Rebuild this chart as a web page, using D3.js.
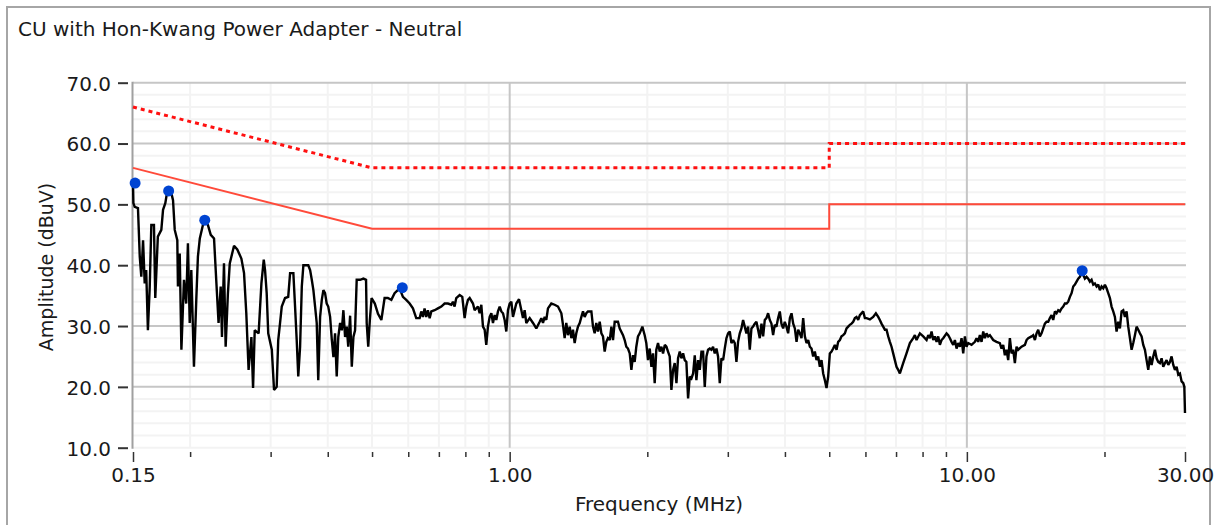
<!DOCTYPE html>
<html>
<head>
<meta charset="utf-8">
<script src="https://cdn.jsdelivr.net/npm/d3@7"></script>
<style>
  html, body { margin: 0; padding: 0; background: #fff; }
  svg { display: block; }
  text { font-family: "DejaVu Sans", Verdana, sans-serif; fill: #1a1a1a; }
</style>
</head>
<body>
<svg id="chart" width="1215" height="525"></svg>
<script>
// ---------------- data ----------------
const title = "CU with Hon-Kwang Power Adapter - Neutral";
const xTitle = "Frequency (MHz)";
const yTitle = "Amplitude (dBuV)";

const yTicks = [10, 20, 30, 40, 50, 60, 70];
const yMinorTicks = [12, 14, 16, 18, 22, 24, 26, 28, 32, 34, 36, 38, 42, 44, 46, 48, 52, 54, 56, 58, 62, 64, 66, 68];
const xLabelTicks = [0.15, 1, 10, 30];
const xMajorGrid = [1, 10];
const xMinorTicks = [0.2, 0.3, 0.4, 0.5, 0.6, 0.7, 0.8, 0.9, 2, 3, 4, 5, 6, 7, 8, 9, 20];

// limit lines (MHz, dBuV)
const limitMHz = [0.15, 0.5, 5, 5, 30];
const qpLimitDbuv = [66, 56, 56, 60, 60];
const avgLimitDbuv = [56, 46, 46, 50, 50];

// peak markers
const peakMHz = [0.1516, 0.1795, 0.2153, 0.5823, 17.875];
const peakDbuv = [53.5, 52.2, 47.4, 36.3, 39.1];

// measured trace [MHz, dBuV]
const trace = [
[0.1500,53.5],[0.1503,50.2],[0.1513,49.6],[0.1538,49.4],[0.1552,41.4],[0.1564,38.1],[0.1578,44.1],[0.1591,37.0],[0.1603,39.2],[0.1617,29.3],
[0.1632,36.5],[0.1645,46.6],[0.1667,46.6],[0.1678,34.6],[0.1700,44.7],[0.1730,45.8],[0.1745,49.1],[0.1765,50.2],[0.1782,52.1],[0.1820,51.8],
[0.1835,50.7],[0.1851,45.8],[0.1875,44.1],[0.1881,36.5],[0.1898,41.9],[0.1914,26.1],[0.1939,37.6],[0.1961,33.7],[0.1978,43.6],[0.1996,30.5],
[0.2012,39.2],[0.2039,23.3],[0.2063,34.3],[0.2080,41.4],[0.2100,44.4],[0.2145,47.4],[0.2188,46.6],[0.2219,45.0],[0.2256,44.4],[0.2281,37.6],
[0.2308,30.5],[0.2333,36.5],[0.2348,28.2],[0.2372,40.3],[0.2392,26.6],[0.2419,35.3],[0.2442,40.3],[0.2495,43.2],[0.2536,42.6],[0.2589,41.1],
[0.2624,38.7],[0.2654,32.1],[0.2685,22.8],[0.2723,28.2],[0.2746,19.8],[0.2769,29.3],[0.2824,28.8],[0.2864,37.0],[0.2898,40.9],[0.2917,39.2],
[0.2941,35.4],[0.2964,28.8],[0.3018,26.1],[0.3052,19.5],[0.3093,20.0],[0.3117,27.7],[0.3146,30.5],[0.3173,33.2],[0.3226,34.6],[0.3278,34.8],
[0.3309,38.7],[0.3364,38.7],[0.3393,33.2],[0.3421,27.7],[0.3448,21.7],[0.3480,26.6],[0.3510,36.5],[0.3538,40.0],[0.3626,40.0],[0.3660,39.2],
[0.3691,37.6],[0.3721,35.9],[0.3753,33.2],[0.3784,30.5],[0.3813,21.1],[0.3849,31.5],[0.3882,34.3],[0.3913,35.9],[0.3946,35.4],[0.3979,33.7],
[0.4010,33.2],[0.4048,31.5],[0.4083,27.7],[0.4116,24.9],[0.4150,28.8],[0.4185,21.7],[0.4218,28.2],[0.4257,30.5],[0.4294,29.3],[0.4328,32.6],
[0.4365,28.2],[0.4401,29.9],[0.4435,26.6],[0.4477,31.7],[0.4515,23.3],[0.4552,28.2],[0.4590,29.3],[0.4628,37.6],[0.4708,37.6],[0.4787,37.8],
[0.4851,37.6],[0.4867,30.5],[0.4905,26.6],[0.4945,31.0],[0.4988,34.6],[0.5070,33.7],[0.5152,32.0],[0.5240,31.0],[0.5326,34.6],[0.5413,34.6],
[0.5510,34.3],[0.5601,35.4],[0.5745,36.2],[0.5841,34.8],[0.5939,34.3],[0.6042,33.7],[0.6143,32.9],[0.6246,31.3],
[0.6354,31.3],[0.6407,32.4],[0.6460,31.5],[0.6514,32.9],[0.6569,31.5],[0.6624,32.6],[0.6683,31.3],[0.6739,32.4],[0.6852,32.6],[0.6967,32.9],
[0.7087,33.2],[0.7205,33.7],[0.7326,33.7],[0.7453,33.5],[0.7514,34.0],[0.7577,33.2],[0.7641,34.6],[0.7773,35.1],[0.7877,34.8],[0.7970,31.3],
[0.8036,33.2],[0.8104,34.3],[0.8175,34.6],[0.8312,33.7],[0.8382,32.6],[0.8522,33.2],[0.8597,32.1],[0.8669,33.5],[0.8741,29.9],[0.8815,29.4],
[0.8888,26.9],[0.8963,29.9],[0.9042,31.5],[0.9118,32.1],[0.9193,30.5],[0.9271,31.8],[0.9348,31.0],[0.9427,32.4],[0.9509,33.2],[0.9589,32.4],
[0.9668,32.1],[0.9749,31.0],[0.9831,29.1],[0.9914,32.6],[1.0000,33.7],[1.0084,34.0],[1.0167,31.5],[1.0253,32.6],[1.0338,33.7],[1.0481,34.4],
[1.0606,32.6],[1.0693,31.3],[1.0783,32.6],[1.0873,30.5],[1.1061,31.3],[1.1246,30.5],[1.1436,29.6],[1.1632,30.7],[1.1730,31.3],[1.1827,30.5],
[1.1927,31.5],[1.2026,31.0],[1.2127,32.9],[1.2334,33.7],[1.2542,33.5],[1.2754,33.2],[1.2973,32.1],[1.3080,30.2],[1.3190,28.0],[1.3299,30.5],
[1.3411,28.5],[1.3530,29.9],[1.3644,28.0],[1.3756,29.4],[1.3872,27.2],[1.3987,28.8],[1.4105,29.9],[1.4229,30.5],[1.4349,31.5],[1.4467,32.4],
[1.4589,31.5],[1.4710,32.1],[1.4834,32.4],[1.5090,32.4],[1.5214,29.9],[1.5342,28.8],[1.5469,30.5],[1.5599,29.1],[1.5737,30.7],[1.5870,28.8],
[1.6000,28.3],[1.6135,25.8],[1.6268,27.4],[1.6405,28.0],[1.6551,27.7],[1.6691,29.9],[1.6828,27.7],[1.6970,30.7],[1.7253,30.7],[1.7406,29.6],
[1.7697,28.5],[1.7846,27.7],[1.7993,26.6],[1.8145,26.3],[1.8305,25.5],[1.8459,22.8],[1.8611,25.2],[1.8768,24.1],[1.8922,26.6],[1.9082,28.3],
[1.9251,28.8],[1.9508,29.9],[1.9738,28.5],[1.9900,27.2],[2.0068,24.4],[2.0246,26.3],[2.0417,23.3],[2.0584,25.5],[2.0758,20.6],[2.0928,26.1],
[2.111,27.2],[2.129,25.8],[2.147,26.6],[2.165,25.5],[2.184,26.9],[2.202,26.6],[2.220,25.8],[2.239,25.0],[2.258,19.5],[2.277,22.8],
[2.296,23.9],[2.316,20.6],[2.335,24.7],[2.355,25.8],[2.375,24.7],[2.395,25.5],[2.415,24.4],[2.435,24.1],[2.456,18.1],[2.477,21.7],
[2.498,21.4],[2.519,22.2],[2.540,25.2],[2.561,21.1],[2.583,24.4],[2.605,22.8],[2.627,25.8],[2.649,25.8],[2.671,20.0],[2.694,25.0],
[2.716,26.1],[2.739,26.3],[2.762,26.1],[2.785,26.6],[2.809,25.5],[2.833,26.3],[2.856,25.0],[2.881,20.6],[2.905,24.7],[2.930,24.4],
[2.954,26.3],[2.979,28.0],[3.004,28.8],[3.030,29.1],[3.055,27.2],[3.081,27.7],[3.107,27.2],[3.133,24.1],[3.159,27.4],[3.186,28.8],
[3.213,29.6],[3.240,31.0],[3.267,29.9],[3.295,28.8],[3.323,29.9],[3.351,26.1],[3.379,29.6],[3.407,29.9],[3.436,30.4],[3.465,30.7],
[3.494,29.4],[3.524,28.0],[3.554,30.4],[3.584,28.3],[3.614,31.0],[3.644,31.3],[3.675,32.1],[3.706,31.0],[3.737,30.4],[3.769,28.5],
[3.800,30.2],[3.832,29.9],[3.865,31.3],[3.898,32.4],[3.930,30.4],[3.964,29.6],[3.997,30.7],[4.031,29.9],[4.065,28.8],[4.101,31.3],
[4.135,32.1],[4.170,30.4],[4.205,29.6],[4.241,27.4],[4.276,29.4],[4.312,28.8],[4.348,28.0],[4.385,31.3],[4.422,28.3],[4.459,27.2],
[4.497,27.7],[4.535,26.6],[4.573,26.3],[4.611,25.0],[4.650,25.8],[4.689,24.4],[4.729,25.0],[4.769,23.3],[4.809,24.4],[4.850,22.2],
[4.891,21.1],[4.932,19.8],[4.973,21.7],[5.015,25.5],[5.058,25.8],[5.100,26.3],[5.143,26.9],[5.187,26.1],[5.230,27.4],[5.275,27.7],
[5.319,28.3],[5.364,28.5],[5.409,28.8],[5.455,29.6],[5.501,29.9],[5.547,30.2],[5.594,30.4],[5.641,30.7],[5.689,31.3],[5.737,31.5],
[5.785,31.0],[5.834,31.8],[5.933,32.4],[5.983,31.3],[6.033,31.3],[6.136,31.1],[6.239,31.5],[6.324,32.1],[6.399,31.5],[6.452,31.0],
[6.506,30.4],[6.561,29.9],[6.617,29.4],[6.672,29.4],[6.729,28.3],[6.786,27.4],[6.843,26.6],[6.900,25.5],[6.958,24.4],[7.017,23.3],
[7.076,22.8],[7.136,22.2],
[7.256,23.9],[7.379,25.5],[7.505,27.2],[7.632,28.0],[7.697,28.5],[7.761,27.7],[7.893,28.8],[8.027,28.3],[8.163,27.7],[8.232,28.5],
[8.301,28.0],[8.371,29.1],[8.442,27.7],[8.513,28.3],[8.585,27.4],[8.657,28.3],[8.729,26.9],[8.803,27.7],[8.877,28.0],[9.028,28.8],
[9.104,28.5],[9.181,28.0],[9.258,27.4],[9.336,26.9],[9.415,27.7],[9.494,26.3],[9.574,27.2],[9.655,26.6],[9.736,28.0],[9.818,25.5],
[9.901,28.3],[9.983,26.6],[10.067,27.2],[10.238,26.9],[10.411,27.4],[10.499,28.0],[10.588,27.4],[10.677,28.5],[10.767,27.4],[10.858,29.1],
[10.949,28.0],[11.041,28.8],[11.134,28.3],[11.228,28.5],[11.418,27.7],[11.611,27.4],[11.808,27.2],[11.907,26.3],[12.008,26.9],[12.109,25.2],
[12.211,26.1],[12.314,24.4],[12.419,28.0],[12.523,25.5],[12.629,26.1],[12.735,23.9],[12.843,26.6],[12.951,26.1],[13.170,26.6],[13.394,26.9],
[13.507,27.7],[13.621,28.0],[13.851,28.3],[13.968,28.5],[14.086,27.7],[14.205,28.8],[14.324,29.4],[14.445,28.3],[14.567,28.8],[14.690,29.6],
[14.814,30.4],[14.939,30.7],[15.065,30.7],[15.191,31.3],[15.319,31.8],[15.448,31.0],[15.579,32.4],[15.710,32.1],[15.843,32.6],[15.976,32.4],
[16.111,32.9],[16.247,33.2],[16.384,33.7],[16.522,33.7],[16.661,34.0],[16.802,34.8],[16.944,35.4],[17.086,36.5],[17.230,36.8],[17.376,37.3],
[17.522,37.8],[17.670,38.1],[17.819,38.7],[17.969,38.4],[18.121,37.8],[18.274,38.1],[18.428,37.8],[18.583,37.3],[18.740,37.6],[18.898,36.8],
[19.057,37.0],[19.218,36.5],[19.380,36.8],[19.543,35.9],[19.708,36.5],[19.874,36.2],[20.042,36.8],[20.211,36.2],[20.381,35.4],[20.553,34.6],
[20.726,33.2],[20.901,32.4],[21.077,31.5],[21.255,29.1],[21.434,30.7],[21.615,29.6],[21.797,32.4],[21.981,32.6],[22.167,31.5],[22.354,32.4],
[22.542,29.9],[22.732,28.0],[22.924,26.1],[23.117,27.2],[23.312,28.5],[23.509,29.9],[23.707,29.4],[23.907,28.8],[24.109,28.3],[24.312,26.9],
[24.517,26.1],[24.724,24.4],[24.932,22.8],[25.142,25.0],[25.354,23.6],[25.568,25.0],[25.784,26.1],[26.001,24.7],[26.220,24.1],[26.441,23.9],
[26.664,24.7],[26.889,23.3],[27.116,23.9],[27.345,24.4],[27.575,23.6],[27.808,24.1],[28.042,25.0],[28.279,23.6],[28.517,22.8],[28.758,23.3],
[29.000,22.0],[29.244,22.2],[29.491,20.9],[29.740,20.6],[29.900,20.0],[30.000,15.7]
];

// ---------------- drawing ----------------
const svg = d3.select("#chart");
const x = d3.scaleLog().domain([0.15, 30]).range([133, 1185]);
const y = d3.scaleLinear().domain([10, 70]).range([447.7, 82.7]);

// outer frame
svg.append("rect").attr("x", 7).attr("y", 7).attr("width", 1203).attr("height", 540)
  .attr("fill", "none").attr("stroke", "#a6a6a6").attr("stroke-width", 2);

// title
svg.append("text").attr("x", 18).attr("y", 36).attr("font-size", 20).text(title);

const grid = svg.append("g");
// minor grid
grid.selectAll("line.hmin").data(yMinorTicks.concat([10])).join("line")
  .attr("x1", 133).attr("x2", 1186).attr("y1", d => y(d)).attr("y2", d => y(d))
  .attr("stroke", "#f3f3f3").attr("stroke-width", 2);
grid.selectAll("line.vmin").data(xMinorTicks).join("line")
  .attr("x1", d => x(d)).attr("x2", d => x(d)).attr("y1", y(70)).attr("y2", y(10))
  .attr("stroke", "#f3f3f3").attr("stroke-width", 2);
// major grid
grid.selectAll("line.hmaj").data(yTicks.filter(d => d > 10)).join("line")
  .attr("x1", 133).attr("x2", 1186).attr("y1", d => y(d)).attr("y2", d => y(d))
  .attr("stroke", "#c6c6c6").attr("stroke-width", 2);
grid.selectAll("line.vmaj").data(xMajorGrid).join("line")
  .attr("x1", d => x(d)).attr("x2", d => x(d)).attr("y1", y(70)).attr("y2", y(10))
  .attr("stroke", "#c6c6c6").attr("stroke-width", 2);

// y axis line
svg.append("line").attr("x1", 132.5).attr("x2", 132.5).attr("y1", y(70) - 1).attr("y2", y(10) + 1)
  .attr("stroke", "#a0a0a0").attr("stroke-width", 2);

// y axis ticks + labels
const yAxis = svg.append("g").attr("transform", "translate(128,0)")
  .call(d3.axisLeft(y).tickValues(yTicks).tickSize(10).tickPadding(7).tickFormat(d3.format(".1f")));
yAxis.select(".domain").remove();
yAxis.selectAll("line").attr("stroke", "#333").attr("stroke-width", 2);
yAxis.selectAll("text").attr("font-size", 20).attr("font-family", "DejaVu Sans, Verdana, sans-serif")
  .attr("fill", "#1a1a1a").attr("dy", "0.37em");

// x axis minor ticks
const xMinorAxis = svg.append("g").attr("transform", "translate(0,452)")
  .call(d3.axisBottom(x).tickValues(xMinorTicks).tickSize(5).tickFormat(""));
xMinorAxis.select(".domain").remove();
xMinorAxis.selectAll("line").attr("stroke", "#333").attr("stroke-width", 1.5);

// x axis labelled ticks
const xAxis = svg.append("g").attr("transform", "translate(0,452)")
  .call(d3.axisBottom(x).tickValues(xLabelTicks).tickSize(10).tickPadding(6).tickFormat(d3.format(".2f")));
xAxis.select(".domain").remove();
xAxis.selectAll("line").attr("stroke", "#333").attr("stroke-width", 1.5);
xAxis.selectAll("text").attr("font-size", 20).attr("font-family", "DejaVu Sans, Verdana, sans-serif")
  .attr("fill", "#1a1a1a");

// axis titles
svg.append("text").attr("x", 659).attr("y", 511).attr("text-anchor", "middle")
  .attr("font-size", 20).text(xTitle);
svg.append("text").attr("transform", "translate(53,267) rotate(-90)").attr("text-anchor", "middle")
  .attr("font-size", 19).text(yTitle);

// limit lines
const limLine = d3.line().x(d => x(d[0])).y(d => y(d[1]));
const qpPts = limitMHz.map((f, i) => [f, qpLimitDbuv[i]]);
const avPts = limitMHz.map((f, i) => [f, avgLimitDbuv[i]]);
svg.append("path").attr("d", limLine(avPts)).attr("fill", "none")
  .attr("stroke", "#ff4a3a").attr("stroke-width", 2);
svg.append("path").attr("d", limLine(qpPts)).attr("fill", "none")
  .attr("stroke", "#ff1010").attr("stroke-width", 3).attr("stroke-dasharray", "4,4");

// trace
const traceLine = d3.line().x(d => x(d[0])).y(d => y(d[1]));
svg.append("path").attr("d", traceLine(trace)).attr("fill", "none")
  .attr("stroke", "#000").attr("stroke-width", 2.4).attr("stroke-linejoin", "miter")
  .attr("stroke-miterlimit", 2);

// peak markers
svg.selectAll("circle.peak").data(peakMHz.map((f, i) => [f, peakDbuv[i]])).join("circle")
  .attr("cx", d => x(d[0])).attr("cy", d => y(d[1])).attr("r", 5.5)
  .attr("fill", "#0044d2");
</script>
</body>
</html>
